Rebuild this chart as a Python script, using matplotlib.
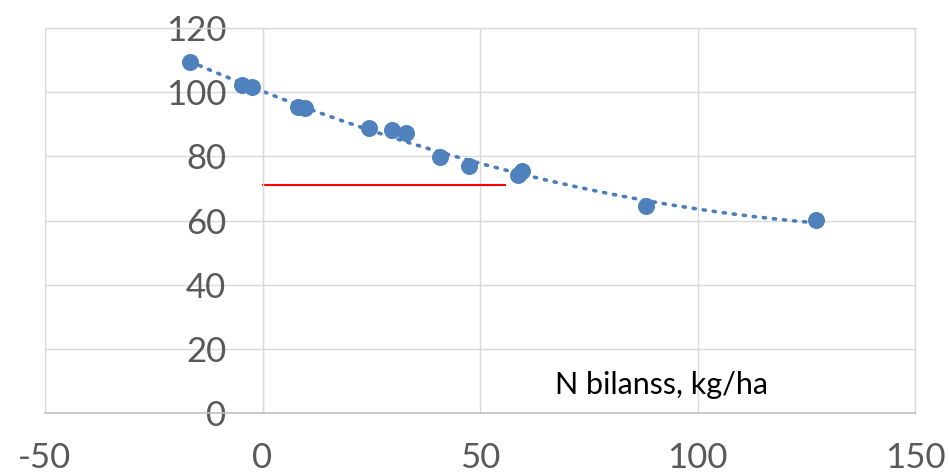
import numpy as np
import matplotlib
matplotlib.use("Agg")
import matplotlib.pyplot as plt

n_balance = [-16.7, -4.7, -2.4, 8.2, 9.8, 24.5, 29.8, 33.0, 40.8, 47.5, 58.7, 59.7, 88.2, 127.2]
yield_rel = [109.3, 102.2, 101.6, 95.3, 95.0, 88.8, 88.2, 87.2, 79.8, 77.0, 74.1, 75.4, 64.5, 60.1]
red_x = [0, 55.7]
red_y = [71.0, 71.0]
x_ticks = [-50, 0, 50, 100, 150]
y_ticks = [0, 20, 40, 60, 80, 100, 120]
x_label = "N bilanss, kg/ha"

plt.rcParams['font.family'] = ['Lato', 'DejaVu Sans']
plt.rcParams['axes.unicode_minus'] = False

fig = plt.figure(figsize=(9.49, 4.76), dpi=100)
ax = fig.add_axes([45/949, 1-413/476, 870/949, 385/476])

ax.set_xlim(-50, 150)
ax.set_ylim(0, 120)

grid_c = '#D9D9D9'
ax.set_xticks(x_ticks)
ax.set_yticks(y_ticks)
ax.grid(True, color=grid_c, lw=1.0, zorder=0)
ax.set_axisbelow(True)

for s in ['top', 'right']:
    ax.spines[s].set_color(grid_c)
    ax.spines[s].set_linewidth(1.0)
ax.spines['left'].set_position(('data', 0))
ax.spines['left'].set_color(grid_c)
ax.spines['left'].set_linewidth(1.0)
ax.spines['bottom'].set_color('#BFBFBF')
ax.spines['bottom'].set_linewidth(1.2)

ax.axvline(-50, color=grid_c, lw=1.0, zorder=0)

ax.tick_params(axis='both', length=0, labelsize=25, labelcolor='#595959')
ax.tick_params(axis='y', pad=26)
ax.tick_params(axis='x', pad=21)

coef = np.polyfit(n_balance, yield_rel, 2)
xs = np.linspace(min(n_balance), max(n_balance), 200)
ax.plot(xs, np.polyval(coef, xs), linestyle=(0, (0.6, 2.2)), dash_capstyle='round',
        color='#4A7EBB', lw=2.6, zorder=2)

ax.scatter(n_balance, yield_rel, s=150, color='#4F81BD', zorder=3, linewidths=0)

ax.plot(red_x, red_y, color='#FF0000', lw=1.5, zorder=2)

ax.text(0.709, 0.073, x_label, transform=ax.transAxes, ha='center', va='center',
        fontsize=22, color='black')

fig.savefig('out.png', dpi=100)
